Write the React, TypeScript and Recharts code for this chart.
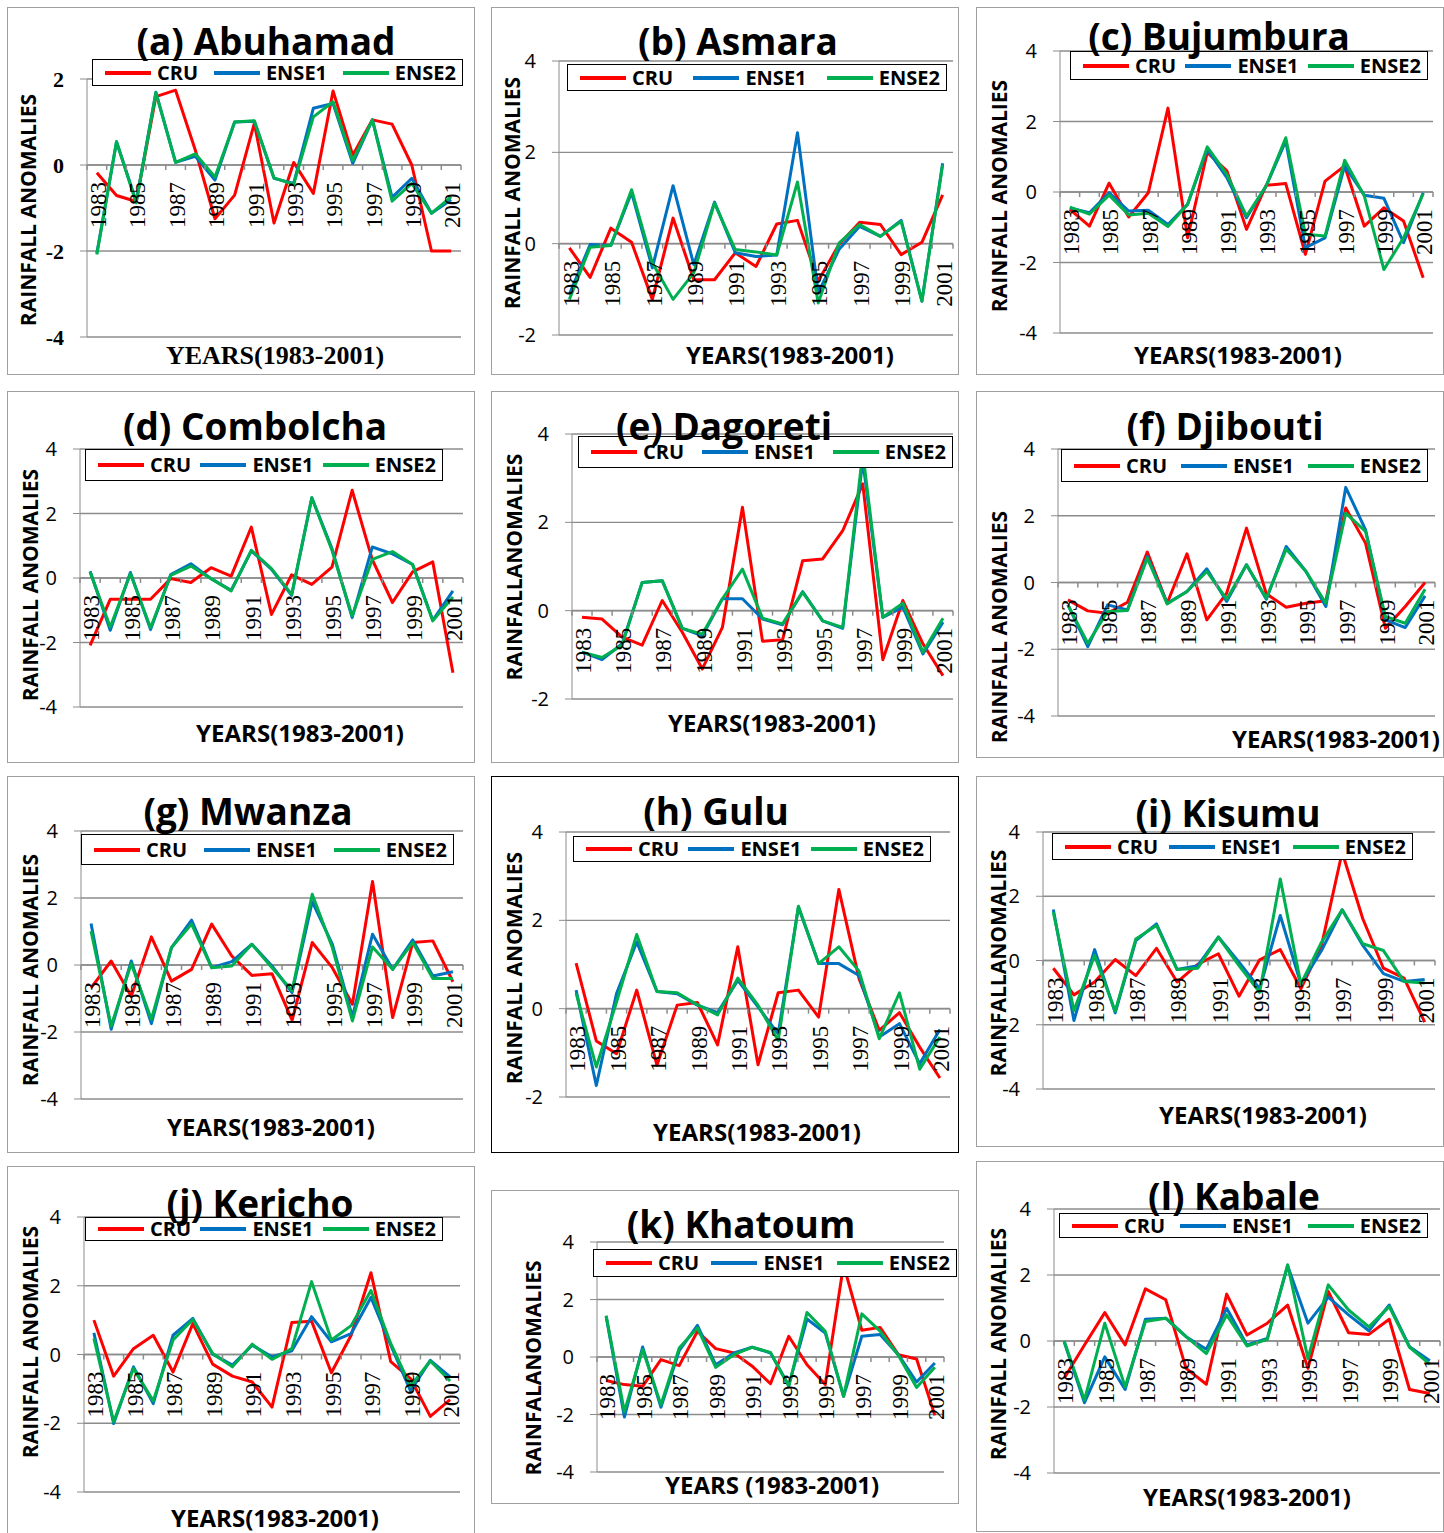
import React from "react";
import { CartesianGrid, Line, LineChart, ReferenceLine, XAxis, YAxis } from "recharts";

const YEARS = [
  "1983", "1984", "1985", "1986", "1987", "1988", "1989", "1990", "1991", "1992",
  "1993", "1994", "1995", "1996", "1997", "1998", "1999", "2000", "2001",
];

// y tick sets used by the panels
const TICKS_LOW = [-4, -2, 0, 2];
const TICKS_HIGH = [-2, 0, 2, 4];
const TICKS_WIDE = [-4, -2, 0, 2, 4];

const SERIES = [
  { key: "cru", label: "CRU", color: "#FF0000" },
  { key: "ense1", label: "ENSE1", color: "#0070C0" },
  { key: "ense2", label: "ENSE2", color: "#00B050" },
];

// (a) Abuhamad
const abuhamadCru = [-0.18, -0.71, -0.85, 1.59, 1.74, 0.35, -1.25, -0.7, 0.97, -1.35, 0.06, -0.66, 1.72, 0.23, 1.05, 0.95, 0.0, -2.0, -2.0];
const abuhamadEnse1 = [-2.05, 0.54, -0.85, 1.69, 0.06, 0.2, -0.35, 1.0, 1.02, -0.31, -0.43, 1.32, 1.43, 0.04, 1.05, -0.75, -0.31, -1.12, -0.81];
const abuhamadEnse2 = [-2.08, 0.54, -0.88, 1.68, 0.06, 0.26, -0.28, 1.0, 1.03, -0.3, -0.45, 1.12, 1.47, 0.1, 1.05, -0.84, -0.43, -1.12, -0.74];
// (b) Asmara
const asmaraCru = [-0.09, -0.74, 0.34, 0.03, -1.22, 0.56, -0.79, -0.79, -0.2, -0.5, 0.43, 0.51, -0.82, -0.02, 0.47, 0.42, -0.24, 0.03, 1.07];
const asmaraEnse1 = [-1.11, -0.02, -0.04, 1.12, -0.53, 1.27, -0.46, 0.91, -0.2, -0.28, -0.25, 2.43, -1.08, -0.13, 0.38, 0.16, 0.51, -1.26, 1.76];
const asmaraEnse2 = [-1.22, -0.08, -0.04, 1.18, -0.42, -1.22, -0.64, 0.89, -0.13, -0.18, -0.25, 1.35, -1.3, 0.01, 0.42, 0.16, 0.49, -1.26, 1.73];
// (c) Bujumbura
const bujumburaCru = [-0.49, -0.97, 0.25, -0.71, -0.02, 2.38, -1.3, 1.12, 0.6, -1.06, 0.19, 0.24, -1.77, 0.31, 0.74, -0.97, -0.45, -0.82, -2.43];
const bujumburaEnse1 = [-0.45, -0.59, -0.02, -0.54, -0.52, -0.92, -0.35, 1.21, 0.41, -0.73, 0.17, 1.45, -1.58, -1.3, 0.74, -0.09, -0.18, -1.44, -0.02];
const bujumburaEnse2 = [-0.43, -0.63, -0.09, -0.65, -0.6, -0.98, -0.35, 1.28, 0.5, -0.68, 0.17, 1.54, -1.2, -1.25, 0.9, -0.11, -2.2, -1.3, -0.05];
// (d) Combolcha
const combolchaCru = [-2.09, -0.66, -0.66, -0.66, -0.02, -0.14, 0.32, 0.06, 1.58, -1.13, 0.1, -0.2, 0.34, 2.72, 0.57, -0.76, 0.19, 0.5, -2.94];
const combolchaEnse1 = [0.21, -1.62, 0.17, -1.6, 0.11, 0.44, -0.02, -0.38, 0.84, 0.27, -0.54, 2.49, 0.91, -1.23, 0.96, 0.75, 0.42, -1.31, -0.4];
const combolchaEnse2 = [0.19, -1.52, 0.13, -1.54, 0.08, 0.37, -0.02, -0.4, 0.86, 0.29, -0.51, 2.49, 0.86, -1.18, 0.58, 0.82, 0.42, -1.33, -0.59];
// (e) Dagoreti
const dagoretiCru = [-0.15, -0.19, -0.6, -0.78, 0.23, -0.49, -1.32, -0.38, 2.34, -0.69, -0.66, 1.13, 1.17, 1.81, 2.87, -1.11, 0.23, -0.75, -1.47];
const dagoretiEnse1 = [-0.94, -1.11, -0.75, 0.64, 0.68, -0.4, -0.57, 0.27, 0.27, -0.19, -0.32, 0.43, -0.23, -0.4, 3.4, -0.15, 0.08, -0.98, -0.26];
const dagoretiEnse2 = [-0.94, -1.06, -0.78, 0.64, 0.68, -0.4, -0.53, 0.27, 0.94, -0.17, -0.3, 0.42, -0.23, -0.38, 3.58, -0.15, 0.17, -0.94, -0.17];
// (f) Djibouti
const djiboutiCru = [-0.52, -0.85, -0.92, -0.59, 0.91, -0.62, 0.86, -1.12, -0.32, 1.63, -0.34, -0.74, -0.62, -0.55, 2.23, 1.18, -1.37, -0.72, 0.0];
const djiboutiEnse1 = [-0.67, -1.92, -0.67, -0.82, 0.78, -0.62, -0.27, 0.41, -0.57, 0.53, -0.5, 1.08, 0.33, -0.72, 2.85, 1.58, -1.12, -1.35, -0.4];
const djiboutiEnse2 = [-0.67, -1.82, -0.87, -0.84, 0.73, -0.64, -0.27, 0.33, -0.5, 0.53, -0.47, 1.0, 0.33, -0.62, 2.08, 1.53, -1.02, -1.22, -0.2];
// (g) Mwanza
const mwanzaCru = [-0.68, 0.12, -0.93, 0.84, -0.48, -0.13, 1.22, 0.27, -0.31, -0.26, -1.65, 0.67, -0.08, -1.17, 2.49, -1.57, 0.67, 0.72, -0.5];
const mwanzaEnse1 = [1.24, -1.92, 0.12, -1.75, 0.52, 1.34, -0.08, 0.1, 0.62, -0.03, -0.82, 1.89, 0.62, -1.55, 0.92, -0.13, 0.75, -0.33, -0.2];
const mwanzaEnse2 = [1.01, -1.82, 0.04, -1.62, 0.52, 1.22, -0.08, -0.03, 0.62, -0.08, -0.77, 2.11, 0.52, -1.67, 0.54, -0.13, 0.67, -0.4, -0.4];
// (h) Gulu
const guluCru = [1.03, -0.73, -1.02, 0.42, -1.28, 0.08, 0.14, -0.82, 1.4, -1.27, 0.36, 0.42, -0.19, 2.7, 0.68, -0.49, -0.09, -0.87, -1.57];
const guluEnse1 = [0.42, -1.74, 0.34, 1.51, 0.39, 0.34, 0.08, -0.09, 0.64, 0.04, -0.57, 2.3, 1.02, 1.02, 0.75, -0.64, -0.34, -1.25, -0.47];
const guluEnse2 = [0.35, -1.32, 0.15, 1.68, 0.39, 0.36, 0.09, -0.14, 0.69, 0.08, -0.72, 2.32, 1.02, 1.4, 0.85, -0.68, 0.36, -1.37, -0.64];
// (i) Kisumu
const kisumuCru = [-0.24, -1.07, -0.67, 0.03, -0.47, 0.38, -0.67, -0.12, 0.21, -1.11, 0.02, 0.34, -0.88, 0.47, 3.37, 1.3, -0.24, -0.55, -1.92];
const kisumuEnse1 = [1.59, -1.87, 0.34, -1.63, 0.62, 1.14, -0.28, -0.16, 0.73, -0.05, -0.88, 1.4, -0.73, 0.31, 1.58, 0.47, -0.41, -0.65, -0.59];
const kisumuEnse2 = [1.5, -1.56, 0.16, -1.58, 0.67, 1.09, -0.28, -0.24, 0.73, -0.16, -0.99, 2.54, -0.73, 0.57, 1.58, 0.52, 0.31, -0.65, -0.7];
// (j) Kericho
const kerichoCru = [1.0, -0.63, 0.17, 0.56, -0.51, 0.9, -0.28, -0.63, -0.8, -1.53, 0.93, 0.97, -0.53, 0.56, 2.38, -0.21, -0.7, -1.8, -1.31];
const kerichoEnse1 = [0.63, -2.01, -0.36, -1.43, 0.56, 1.05, 0.01, -0.31, 0.27, -0.07, 0.11, 1.1, 0.37, 0.61, 1.66, 0.27, -1.06, -0.17, -0.65];
const kerichoEnse2 = [0.47, -1.96, -0.41, -1.35, 0.42, 1.02, 0.03, -0.36, 0.3, -0.14, 0.17, 2.12, 0.42, 0.84, 1.86, 0.32, -0.92, -0.19, -0.77];
// (k) Khatoum
const khatoumCru = [-0.82, -0.96, -1.02, -0.09, -0.3, 0.89, 0.29, 0.14, -0.32, -0.93, 0.72, -0.27, -0.96, 3.21, 0.93, 1.03, 0.08, -0.07, -2.03];
const khatoumEnse1 = [1.41, -2.09, 0.35, -1.75, 0.22, 1.1, -0.27, 0.14, 0.34, 0.14, -0.99, 1.32, 0.83, -1.37, 0.72, 0.78, 0.08, -0.87, -0.21];
const khatoumEnse2 = [1.44, -1.9, 0.26, -1.66, 0.31, 1.01, -0.36, 0.08, 0.34, 0.16, -1.02, 1.55, 0.89, -1.37, 1.5, 0.9, 0.06, -1.06, -0.36];
// (l) Kabale
const kabaleCru = [-1.13, -0.12, 0.86, -0.12, 1.58, 1.25, -0.83, -1.31, 1.42, 0.18, 0.54, 1.09, -0.83, 1.5, 0.25, 0.2, 0.66, -1.47, -1.59];
const kabaleEnse1 = [-0.02, -1.87, -0.48, -1.47, 0.66, 0.69, 0.13, -0.25, 0.99, -0.12, 0.08, 2.28, 0.54, 1.33, 0.79, 0.31, 1.09, -0.17, -0.6];
const kabaleEnse2 = [0.0, -1.79, 0.54, -1.39, 0.59, 0.69, 0.13, -0.38, 0.79, -0.15, 0.05, 2.31, -0.53, 1.7, 0.94, 0.43, 1.04, -0.19, -0.7];

const Y_TITLE = "RAINFALL ANOMALIES";
const X_TITLE = "YEARS(1983-2001)";

const STATIONS = [
  { title: "(a) Abuhamad", yTitle: Y_TITLE, xTitle: X_TITLE, ticks: TICKS_LOW, cru: abuhamadCru, ense1: abuhamadEnse1, ense2: abuhamadEnse2 },
  { title: "(b) Asmara", yTitle: Y_TITLE, xTitle: X_TITLE, ticks: TICKS_HIGH, cru: asmaraCru, ense1: asmaraEnse1, ense2: asmaraEnse2 },
  { title: "(c) Bujumbura", yTitle: Y_TITLE, xTitle: X_TITLE, ticks: TICKS_WIDE, cru: bujumburaCru, ense1: bujumburaEnse1, ense2: bujumburaEnse2 },
  { title: "(d) Combolcha", yTitle: Y_TITLE, xTitle: X_TITLE, ticks: TICKS_WIDE, cru: combolchaCru, ense1: combolchaEnse1, ense2: combolchaEnse2 },
  { title: "(e) Dagoreti", yTitle: "RAINFALLANOMALIES", xTitle: X_TITLE, ticks: TICKS_HIGH, cru: dagoretiCru, ense1: dagoretiEnse1, ense2: dagoretiEnse2 },
  { title: "(f) Djibouti", yTitle: Y_TITLE, xTitle: X_TITLE, ticks: TICKS_WIDE, cru: djiboutiCru, ense1: djiboutiEnse1, ense2: djiboutiEnse2 },
  { title: "(g) Mwanza", yTitle: Y_TITLE, xTitle: X_TITLE, ticks: TICKS_WIDE, cru: mwanzaCru, ense1: mwanzaEnse1, ense2: mwanzaEnse2 },
  { title: "(h) Gulu", yTitle: Y_TITLE, xTitle: X_TITLE, ticks: TICKS_HIGH, cru: guluCru, ense1: guluEnse1, ense2: guluEnse2 },
  { title: "(i) Kisumu", yTitle: "RAINFALLANOMALIES", xTitle: X_TITLE, ticks: TICKS_WIDE, cru: kisumuCru, ense1: kisumuEnse1, ense2: kisumuEnse2 },
  { title: "(j) Kericho", yTitle: Y_TITLE, xTitle: X_TITLE, ticks: TICKS_WIDE, cru: kerichoCru, ense1: kerichoEnse1, ense2: kerichoEnse2 },
  { title: "(k) Khatoum", yTitle: "RAINFALANOMALIES", xTitle: "YEARS (1983-2001)", ticks: TICKS_WIDE, cru: khatoumCru, ense1: khatoumEnse1, ense2: khatoumEnse2 },
  { title: "(l) Kabale", yTitle: Y_TITLE, xTitle: X_TITLE, ticks: TICKS_WIDE, cru: kabaleCru, ense1: kabaleEnse1, ense2: kabaleEnse2 },
];

// page positions: box [x, y, w, h], plot [left, top, right, bottom], text centres
const LAYOUT = [
  { box: [8, 8, 466, 366], plot: [87, 79, 461, 337], title: [266, 40], legend: [92, 59, 463, 86], yTitle: [28, 210], xTitle: [275, 356], serif: true },
  { box: [492, 8, 466, 366], plot: [559, 61, 953, 335], title: [738, 40], legend: [567, 64, 947, 91], yTitle: [512, 193], xTitle: [790, 355] },
  { box: [977, 8, 466, 366], plot: [1060, 51, 1433, 333], title: [1219, 35], legend: [1070, 51, 1428, 80], yTitle: [999, 196], xTitle: [1238, 355] },
  { box: [8, 392, 466, 370], plot: [80, 449, 463, 707], title: [255, 425], legend: [85, 449, 443, 481], yTitle: [30, 585], xTitle: [300, 733] },
  { box: [492, 392, 466, 370], plot: [572, 434, 953, 699], title: [724, 425], legend: [578, 436, 953, 468], yTitle: [514, 567], xTitle: [772, 723] },
  { box: [977, 392, 466, 365], plot: [1058, 449, 1435, 716], title: [1225, 425], legend: [1061, 449, 1428, 482], yTitle: [999, 627], xTitle: [1336, 739] },
  { box: [8, 777, 466, 375], plot: [81, 831, 463, 1099], title: [248, 810], legend: [81, 834, 454, 865], yTitle: [30, 970], xTitle: [271, 1127] },
  { box: [492, 777, 466, 375], plot: [566, 832, 950, 1097], title: [716, 810], legend: [573, 836, 931, 862], yTitle: [514, 968], xTitle: [757, 1132], frame: "#000" },
  { box: [977, 777, 466, 369], plot: [1043, 832, 1435, 1089], title: [1228, 812], legend: [1052, 833, 1413, 860], yTitle: [998, 963], xTitle: [1263, 1115] },
  { box: [8, 1167, 466, 366], plot: [84, 1217, 460, 1492], title: [260, 1202], legend: [85, 1217, 443, 1241], yTitle: [30, 1342], xTitle: [275, 1518] },
  { box: [492, 1191, 466, 312], plot: [597, 1242, 944, 1472], title: [741, 1223], legend: [593, 1249, 957, 1277], yTitle: [533, 1368], xTitle: [772, 1485] },
  { box: [977, 1162, 466, 369], plot: [1054, 1209, 1440, 1473], title: [1234, 1195], legend: [1059, 1213, 1428, 1238], yTitle: [998, 1344], xTitle: [1247, 1497] },
];

const SANS = "'Open Sans', Lato, sans-serif";
const SERIF = "'Liberation Serif', 'Times New Roman', serif";
const GRID = "#8c8c8c";
const X_AXIS_H = 1;

function Panel({ station, layout }: { station: any; layout: any }) {
  const [bx, by, bw, bh] = layout.box;
  const [pl, pt, pr, pb] = layout.plot;
  const plotW = pr - pl;
  const plotH = pb - pt;
  const ymin = station.ticks[0];
  const ymax = station.ticks[station.ticks.length - 1];
  const top = pt - by;
  const zeroY = top + (ymax / (ymax - ymin)) * plotH;
  const step = plotW / YEARS.length;

  const rows = YEARS.map((year, i) => ({
    year,
    cru: station.cru[i],
    ense1: station.ense1[i],
    ense2: station.ense2[i],
  }));

  // Excel-style category axis crossing at zero: ticks between categories, rotated years
  const yearTick = (props: any) => {
    const { x, payload, index } = props;
    const left = x - step / 2;
    return (
      <g>
        <line x1={left} x2={left} y1={zeroY} y2={zeroY + 5} stroke={GRID} strokeWidth={1.5} />
        {index === YEARS.length - 1 && (
          <line x1={x + step / 2} x2={x + step / 2} y1={zeroY} y2={zeroY + 5} stroke={GRID} strokeWidth={1.5} />
        )}
        {index % 2 === 0 && (
          <text
            transform={`translate(${x},${zeroY + 17}) rotate(-90)`}
            textAnchor="end"
            dy="0.4em"
            fontFamily={SERIF}
            fontSize={23}
            fill="#000"
          >
            {payload.value}
          </text>
        )}
      </g>
    );
  };

  const centred = (p: number[], extra: React.CSSProperties = {}): React.CSSProperties => ({
    position: "absolute",
    left: p[0] - bx,
    top: p[1] - by,
    transform: "translate(-50%, -50%)",
    whiteSpace: "nowrap",
    lineHeight: 1,
    color: "#000",
    ...extra,
  });

  const [lx1, ly1, lx2, ly2] = layout.legend;

  return (
    <div
      style={{
        position: "absolute",
        left: bx,
        top: by,
        width: bw,
        height: bh,
        background: "#fff",
        outline: `1px solid ${layout.frame ?? "#a0a0a0"}`,
      }}
    >
      <LineChart
        width={bw}
        height={bh}
        data={rows}
        margin={{ top, right: bx + bw - pr, bottom: by + bh - pb - X_AXIS_H, left: 0 }}
      >
        <CartesianGrid vertical={false} stroke={GRID} strokeWidth={1.3} />
        <XAxis
          dataKey="year"
          scale="band"
          interval={0}
          height={X_AXIS_H}
          axisLine={false}
          tickLine={false}
          tick={yearTick}
        />
        <YAxis
          width={pl - bx}
          domain={[ymin, ymax]}
          ticks={station.ticks}
          interval={0}
          tickSize={7}
          tickMargin={16}
          stroke={GRID}
          tick={{
            fill: "#000",
            fontSize: layout.serif ? 22 : 20,
            fontFamily: layout.serif ? SERIF : SANS,
            fontWeight: layout.serif ? 700 : 400,
          }}
        />
        <ReferenceLine y={0} stroke={GRID} strokeWidth={1.6} />
        {SERIES.map((s) => (
          <Line
            key={s.key}
            type="linear"
            dataKey={s.key}
            stroke={s.color}
            strokeWidth={3}
            strokeLinejoin="round"
            dot={false}
            isAnimationActive={false}
          />
        ))}
      </LineChart>

      <div
        style={{
          position: "absolute",
          left: lx1 - bx,
          top: ly1 - by,
          width: lx2 - lx1,
          height: ly2 - ly1,
          boxSizing: "border-box",
          border: "1.5px solid #000",
          background: "#fff",
          display: "flex",
          alignItems: "center",
          justifyContent: "space-between",
          padding: "0 6px 0 12px",
        }}
      >
        {SERIES.map((s) => (
          <div key={s.key} style={{ display: "flex", alignItems: "center" }}>
            <span style={{ display: "inline-block", width: 46, height: 4, background: s.color, marginRight: 6 }} />
            <span style={{ fontFamily: SANS, fontWeight: 700, fontSize: 20, lineHeight: 1 }}>{s.label}</span>
          </div>
        ))}
      </div>

      <div
        style={centred(layout.yTitle, {
          transform: "translate(-50%, -50%) rotate(-90deg)",
          fontFamily: SANS,
          fontWeight: 700,
          fontSize: 21,
        })}
      >
        {station.yTitle}
      </div>

      <div
        style={centred(layout.xTitle, {
          fontFamily: layout.serif ? SERIF : SANS,
          fontWeight: 700,
          fontSize: layout.serif ? 26 : 24,
        })}
      >
        {station.xTitle}
      </div>

      <div style={centred(layout.title, { fontFamily: SANS, fontWeight: 700, fontSize: 37 })}>{station.title}</div>
    </div>
  );
}

export default function App() {
  return (
    <div style={{ position: "absolute", left: 0, top: 0, width: 1444, height: 1533, background: "#fff", overflow: "hidden" }}>
      {STATIONS.map((station, i) => (
        <Panel key={station.title} station={station} layout={LAYOUT[i]} />
      ))}
    </div>
  );
}
